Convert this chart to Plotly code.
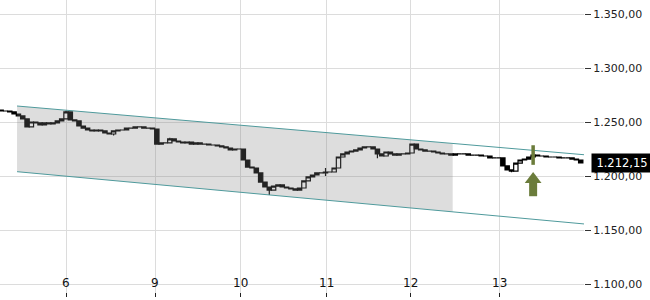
import plotly.graph_objects as go
import numpy as np

# ---- data ----
closes = [
    1260.2, 1260.2, 1259.3, 1257.4, 1255.6, 1252.8, 1245.4, 1250.0, 1249.1, 1247.2,
    1249.1, 1248.2, 1249.1, 1251.0, 1252.8, 1259.3, 1251.9, 1251.0, 1246.3, 1244.4,
    1242.6, 1241.7, 1242.6, 1241.7, 1239.8, 1238.9, 1241.7, 1242.6, 1242.6, 1244.4,
    1244.4, 1245.4, 1245.4, 1244.4, 1244.4, 1243.5,
    1229.6, 1230.6, 1230.6, 1234.3, 1232.4, 1231.5, 1230.6, 1231.5, 1229.6, 1230.6,
    1229.6, 1229.6, 1228.7, 1228.7, 1227.8, 1226.9, 1225.9, 1224.1, 1225.0, 1225.0,
    1214.8, 1208.3, 1207.4, 1202.8, 1194.4, 1189.8, 1187.0,
    1190.7, 1191.7, 1189.8, 1188.9, 1188.0, 1187.0, 1188.9,
    1195.4, 1199.1, 1200.9, 1202.8, 1202.8, 1203.7, 1203.7,
    1207.4, 1217.6, 1220.4, 1222.2, 1223.1, 1224.1, 1225.9, 1226.9, 1226.9,
    1225.0, 1220.4, 1218.5, 1222.2, 1220.4, 1219.4, 1220.4, 1220.4, 1221.3,
    1229.6, 1225.0, 1224.1, 1223.1, 1223.1, 1222.2, 1221.3, 1220.4, 1220.4, 1219.4,
    1220.4, 1220.4, 1220.4, 1219.4, 1219.4, 1219.4, 1218.5, 1218.5, 1216.7, 1216.7, 1216.7,
    1209.3, 1205.6, 1204.6, 1212.0, 1214.8, 1215.7, 1217.6, 1219.4, 1218.5,
    1218.5, 1217.6, 1217.6, 1217.6, 1216.7, 1216.7, 1216.7, 1215.7, 1214.8, 1212.15,
]
first_open = 1261.0
wick_high = {0: 1261.5, 5: 1254.0, 15: 1260.4, 39: 1235.5, 75: 1207.4, 95: 1230.0, 123: 1220.6}
wick_low = {6: 1244.8, 26: 1237.5, 62: 1182.4, 75: 1200.0, 87: 1216.5, 118: 1203.5}

candle_start = 0.25
candle_step = 0.05

day_ticks = [1.0, 2.029, 3.012, 4.017, 4.977, 6.006]
day_labels = ["6", "9", "10", "11", "12", "13"]
price_ticks = [1100, 1150, 1200, 1250, 1300, 1350]

channel_x = [0.434, 6.988]
channel_upper = [1264.8, 1219.7]
channel_lower = [1204.0, 1155.6]
channel_fill_end = 5.47

signal_x = 6.40
signal_bar_price = 1219.4
signal_arrow_head = 1196.9
signal_arrow_shaft = 1188.4

last_price = 1212.15
last_label = "1.212,15"

# ---- derived ----
n = len(closes)
xs = [candle_start + candle_step * i for i in range(n)]
opens = [first_open] + closes[:-1]
highs = [max(o, c) for o, c in zip(opens, closes)]
lows = [min(o, c) for o, c in zip(opens, closes)]
for k, v in wick_high.items():
    highs[k] = max(highs[k], v)
for k, v in wick_low.items():
    lows[k] = min(lows[k], v)

up_end = float(np.interp(channel_fill_end, channel_x, channel_upper))
lo_end = float(np.interp(channel_fill_end, channel_x, channel_lower))

fig = go.Figure()

# grey filled channel section
fig.add_trace(go.Scatter(
    x=[channel_x[0], channel_fill_end, channel_fill_end, channel_x[0], channel_x[0]],
    y=[channel_upper[0], up_end, lo_end, channel_lower[0], channel_upper[0]],
    fill="toself", fillcolor="rgba(128,128,128,0.27)", line=dict(width=0),
    mode="lines", hoverinfo="skip", showlegend=False))

# channel lines
for ys in (channel_upper, channel_lower):
    fig.add_trace(go.Scatter(x=channel_x, y=ys, mode="lines",
                             line=dict(color="#4f9a9c", width=1),
                             hoverinfo="skip", showlegend=False))

fig.add_trace(go.Candlestick(
    x=xs, open=opens, high=highs, low=lows, close=closes,
    increasing=dict(line=dict(color="black", width=1.2), fillcolor="white"),
    decreasing=dict(line=dict(color="black", width=1.2), fillcolor="black"),
    whiskerwidth=0, showlegend=False))

olive = "#6b7c3b"
fig.add_trace(go.Scatter(x=[signal_x], y=[signal_bar_price], mode="markers",
                         marker=dict(symbol="line-ns", size=14,
                                     line=dict(color=olive, width=3.5)),
                         showlegend=False, hoverinfo="skip"))
fig.add_trace(go.Scatter(x=[signal_x], y=[signal_arrow_shaft], mode="markers",
                         marker=dict(symbol="line-ns", size=11,
                                     line=dict(color=olive, width=8)),
                         showlegend=False, hoverinfo="skip"))
fig.add_trace(go.Scatter(x=[signal_x], y=[signal_arrow_head], mode="markers",
                         marker=dict(symbol="triangle-up", size=14.5, color=olive,
                                     line=dict(width=0)),
                         showlegend=False, hoverinfo="skip"))

# last price pointer
fig.add_trace(go.Scatter(x=[7.056], y=[last_price], mode="markers",
                         marker=dict(symbol="triangle-left", size=14, color="black",
                                     line=dict(width=0)),
                         cliponaxis=False, showlegend=False, hoverinfo="skip"))
fig.add_annotation(xref="paper", x=1, xanchor="left", xshift=7,
                   yref="y", y=last_price, yanchor="middle",
                   text=last_label, showarrow=False,
                   font=dict(color="white", size=11.5, family="DejaVu Sans"),
                   bgcolor="black", borderpad=2, width=56, align="center")

# day labels drawn inside the plot, above the bottom tick marks
for tv, tl in zip(day_ticks, day_labels):
    fig.add_annotation(xref="x", x=tv, yref="paper", y=0, yanchor="bottom",
                       xanchor="center", yshift=5, text=tl, showarrow=False,
                       font=dict(size=12, color="#111", family="DejaVu Sans"))

fig.update_layout(
    width=650, height=300, autosize=False,
    margin=dict(l=0, r=66, t=0, b=3),
    paper_bgcolor="white", plot_bgcolor="white",
    separators=",.",
    boxgap=0.0, boxgroupgap=0.0,
    font=dict(family="DejaVu Sans", size=11, color="#222"),
    showlegend=False,
    xaxis=dict(range=[0.237, 6.988], tickvals=day_ticks, ticktext=day_labels,
               showticklabels=False,
               ticks="inside", ticklen=4, tickcolor="#222",
               showgrid=True, gridcolor="#dcdcdc", gridwidth=1,
               zeroline=False, showline=False, rangeslider=dict(visible=False),
               fixedrange=True),
    yaxis=dict(range=[1087.96, 1362.96], side="right", tickvals=price_ticks,
               tickformat=",.2f", ticks="outside", ticklen=6, tickcolor="#333",
               ticklabeloverflow="allow",
               showgrid=True, gridcolor="#dcdcdc", gridwidth=1,
               zeroline=False, showline=False, fixedrange=True),
)

fig.write_html("out.html")
